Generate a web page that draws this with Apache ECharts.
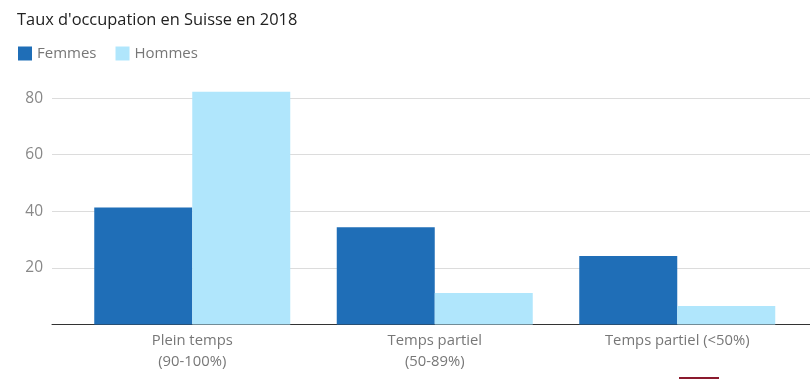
<!DOCTYPE html>
<html>
<head>
<meta charset="utf-8">
<script src="https://cdn.jsdelivr.net/npm/echarts@6/dist/echarts.min.js"></script>
<style>html,body{margin:0;padding:0;background:#fff}#c{width:810px;height:379px}</style>
</head>
<body>
<div id="c"></div>
<script>
var categories = ['Plein temps\n(90-100%)', 'Temps partiel\n(50-89%)', 'Temps partiel (<50%)'];
var femmes = [41.3, 34.4, 24.2];
var hommes = [82.2, 11.1, 6.5];
var seriesNames = ['Femmes', 'Hommes'];

var chart = echarts.init(document.getElementById('c'));
var font = '"Open Sans", sans-serif';
chart.setOption({
  animation: false,
  textStyle: { fontFamily: font },
  title: {
    text: "Taux d'occupation en Suisse en 2018",
    left: 17, top: 12, padding: 0,
    textStyle: { fontFamily: font, fontSize: 16.4, fontWeight: 'normal', color: '#222' }
  },
  legend: {
    data: seriesNames,
    left: 18, top: 46, padding: 0,
    icon: 'rect', itemWidth: 14, itemHeight: 14, itemGap: 19,
    textStyle: { fontFamily: font, fontSize: 15, color: '#777' }
  },
  grid: [
    { left: 52, right: 0, top: 41.5, bottom: 54.5 },
    { left: 71, right: 11.5, top: 41.5, bottom: 54.5 }
  ],
  xAxis: [
    { type: 'value', gridIndex: 0, min: 0, max: 1,
      axisLine: { show: true, onZero: false, lineStyle: { color: '#333', width: 1 } },
      axisTick: { show: false }, axisLabel: { show: false }, splitLine: { show: false } },
    { type: 'category', gridIndex: 1, data: categories,
      axisLine: { show: false }, axisTick: { show: false },
      axisLabel: { fontFamily: font, fontSize: 14.8, color: '#777', lineHeight: 21, margin: 6 } }
  ],
  yAxis: [
    { type: 'value', gridIndex: 0, min: 0, max: 100, interval: 20,
      axisLine: { show: false }, axisTick: { show: false },
      axisLabel: { fontFamily: font, fontSize: 15.5, color: '#888', margin: 9, showMinLabel: false, showMaxLabel: false },
      splitLine: { show: true, showMinLine: false, showMaxLine: false, lineStyle: { color: '#dcdcdc', width: 1 } } },
    { type: 'value', gridIndex: 1, min: 0, max: 100, interval: 20, show: false,
      splitLine: { show: false } }
  ],
  series: [
    { name: seriesNames[0], type: 'bar', xAxisIndex: 1, yAxisIndex: 1, data: femmes,
      barWidth: 98, barGap: '0%', itemStyle: { color: '#1f6eb7' } },
    { name: seriesNames[1], type: 'bar', xAxisIndex: 1, yAxisIndex: 1, data: hommes,
      barWidth: 98, barGap: '0%', itemStyle: { color: '#b0e6fc' } }
  ],
  graphic: [
    { type: 'rect', shape: { x: 679, y: 377, width: 40, height: 2 }, style: { fill: '#8b1a2e' }, silent: true }
  ]
});
</script>
</body>
</html>
